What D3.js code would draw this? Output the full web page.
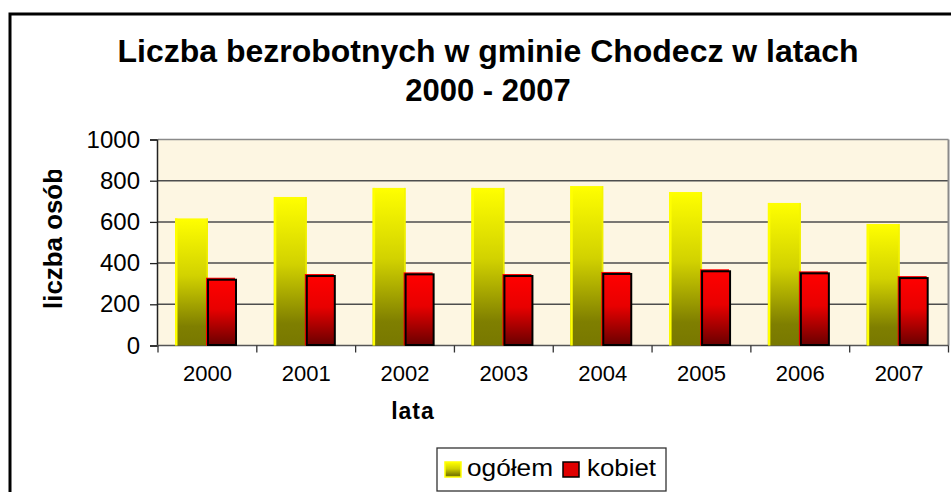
<!DOCTYPE html>
<html>
<head>
<meta charset="utf-8">
<script src="https://cdn.jsdelivr.net/npm/d3@7"></script>
<style>
  body { margin: 0; background: #fff; }
  #chart { width: 951px; height: 492px; }
  text { font-family: "Liberation Sans", Arial, sans-serif; }
</style>
</head>
<body>
<div id="chart"></div>
<script>

// data
let years = ["2000", "2001", "2002", "2003", "2004", "2005", "2006", "2007"];
let seriesNames = ["ogółem", "kobiet"];
let ogolem = [617, 721, 765, 765, 774, 745, 692, 590];
let kobiet = [329, 347, 355, 347, 357, 370, 360, 337];
let yTicks = [0, 200, 400, 600, 800, 1000];

class BarVis {

	constructor(parentElement) {
		this.parentElement = parentElement;
		this.displayData = years.map((y, i) => ({ key: y, "ogółem": ogolem[i], "kobiet": kobiet[i] }));
		this.initVis();
	}

	initVis() {
		let vis = this;

		vis.width = 951;
		vis.height = 492;
		vis.plot = { left: 158, right: 948.5, top: 139.5, bottom: 345.5 };

		vis.svg = d3.select(vis.parentElement).append("svg")
			.attr("width", vis.width)
			.attr("height", vis.height);

		vis.defs = vis.svg.append("defs");
		vis.makeGradients();

		// outer chart frame
		vis.svg.append("rect")
			.attr("x", 10).attr("y", 14)
			.attr("width", 960).attr("height", 500)
			.attr("fill", "#fff")
			.attr("stroke", "#000")
			.attr("stroke-width", 3);

		// title
		vis.svg.append("text")
			.attr("x", 488).attr("y", 62)
			.attr("text-anchor", "middle")
			.attr("font-size", 31).attr("font-weight", "bold")
			.attr("textLength", 741).attr("lengthAdjust", "spacingAndGlyphs")
			.text("Liczba bezrobotnych w gminie Chodecz w latach");
		vis.svg.append("text")
			.attr("x", 488).attr("y", 101)
			.attr("text-anchor", "middle")
			.attr("font-size", 31).attr("font-weight", "bold")
			.text("2000 - 2007");

		vis.createScaleAndAxis();
		vis.updateVis();
		vis.drawLegend();
	}

	makeGradients() {
		let vis = this;
		let yg = vis.defs.append("linearGradient").attr("id", "yellowGrad")
			.attr("x1", 0).attr("y1", 0).attr("x2", 0).attr("y2", 1);
		yg.append("stop").attr("offset", "0%").attr("stop-color", "#ffff00");
		yg.append("stop").attr("offset", "45%").attr("stop-color", "#d2d200");
		yg.append("stop").attr("offset", "85%").attr("stop-color", "#7f7f00");
		yg.append("stop").attr("offset", "100%").attr("stop-color", "#787800");

		let rg = vis.defs.append("linearGradient").attr("id", "redGrad")
			.attr("x1", 0).attr("y1", 0).attr("x2", 0).attr("y2", 1);
		rg.append("stop").attr("offset", "0%").attr("stop-color", "#ff0000");
		rg.append("stop").attr("offset", "45%").attr("stop-color", "#e80000");
		rg.append("stop").attr("offset", "100%").attr("stop-color", "#6a0000");

		vis.defs.append("clipPath").attr("id", "ytitleClip")
			.append("rect").attr("x", 0).attr("y", 170).attr("width", 150).attr("height", 250);
	}

	createScaleAndAxis() {
		let vis = this;
		let p = vis.plot;

		vis.x0 = d3.scaleBand()
			.domain(years)
			.range([p.left, p.right]);

		vis.x1 = d3.scaleBand()
			.domain(seriesNames)
			.range([0, 62]);

		vis.y = d3.scaleLinear()
			.domain([0, 1000])
			.range([p.bottom, p.top]);

		// plot background
		vis.svg.append("rect")
			.attr("x", p.left).attr("y", p.top)
			.attr("width", p.right - p.left).attr("height", p.bottom - p.top)
			.attr("fill", "#fdf6e2");

		// gridlines
		vis.svg.append("g").attr("class", "grid")
			.selectAll("line")
			.data(yTicks.filter(d => d > 0))
			.enter().append("line")
			.attr("x1", p.left).attr("x2", p.right)
			.attr("y1", d => vis.y(d)).attr("y2", d => vis.y(d))
			.attr("stroke", d => d === 1000 ? "#8a8a8a" : "#4d4d4d")
			.attr("stroke-width", 1.5);

		// right edge of plot
		vis.svg.append("line")
			.attr("x1", p.right).attr("x2", p.right)
			.attr("y1", p.top).attr("y2", p.bottom)
			.attr("stroke", "#8a8a8a").attr("stroke-width", 2);

		// y axis
		vis.yAxis = d3.axisLeft(vis.y)
			.tickValues(yTicks)
			.tickSize(7)
			.tickPadding(10)
			.tickFormat(d3.format("d"));

		let ya = vis.svg.append("g")
			.attr("class", "y-axis axis")
			.attr("transform", "translate(" + (p.left - 1) + ",0)")
			.call(vis.yAxis);
		ya.select(".domain").attr("stroke", "#222").attr("stroke-width", 1.5);
		ya.selectAll(".tick line").attr("stroke", "#222").attr("stroke-width", 1.3);
		ya.selectAll(".tick text")
			.attr("font-size", 24)
			.attr("fill", "#000")
			.attr("font-family", "Liberation Sans, Arial, sans-serif");

		// y title, clipped at the top like the original
		vis.svg.append("g").attr("clip-path", "url(#ytitleClip)")
			.append("text")
			.attr("transform", "translate(62,309) rotate(-90)")
			.attr("font-size", 25).attr("font-weight", "bold")
			.attr("textLength", 141).attr("lengthAdjust", "spacingAndGlyphs")
			.text("liczba osób");

		// x axis line and tick marks between categories
		vis.svg.append("line")
			.attr("x1", p.left - 1).attr("x2", p.right)
			.attr("y1", p.bottom).attr("y2", p.bottom)
			.attr("stroke", "#555").attr("stroke-width", 1.5);

		let boundaries = years.map(d => vis.x0(d)).concat([p.right]);
		vis.svg.append("g").selectAll("line")
			.data(boundaries)
			.enter().append("line")
			.attr("x1", d => d).attr("x2", d => d)
			.attr("y1", p.bottom).attr("y2", p.bottom + 7)
			.attr("stroke", "#333").attr("stroke-width", 1.3);

		vis.xAxis = d3.axisBottom(vis.x0).tickSize(0).tickPadding(20);
		let xa = vis.svg.append("g")
			.attr("class", "x-axis axis")
			.attr("transform", "translate(0," + p.bottom + ")")
			.call(vis.xAxis);
		xa.select(".domain").remove();
		xa.selectAll(".tick text")
			.attr("font-size", 22)
			.attr("fill", "#000")
			.attr("font-family", "Liberation Sans, Arial, sans-serif");

		// x title
		vis.svg.append("text")
			.attr("x", 413).attr("y", 419)
			.attr("text-anchor", "middle")
			.attr("font-size", 23).attr("font-weight", "bold")
			.attr("letter-spacing", 1)
			.text("lata");
	}

	updateVis() {
		let vis = this;
		let groupOffset = 17;

		let groups = vis.svg.selectAll(".year")
			.data(vis.displayData)
			.enter().append("g")
			.attr("class", "year")
			.attr("transform", d => "translate(" + (vis.x0(d.key) + groupOffset) + ",0)");

		// ogółem bars (yellow)
		let yw = vis.x1.bandwidth() + 2;
		groups.append("rect")
			.attr("x", vis.x1("ogółem"))
			.attr("y", d => vis.y(d["ogółem"]))
			.attr("width", yw)
			.attr("height", d => vis.y(0) - vis.y(d["ogółem"]))
			.attr("fill", "url(#yellowGrad)");
		groups.append("rect")
			.attr("x", vis.x1("ogółem"))
			.attr("y", d => vis.y(d["ogółem"]))
			.attr("width", 2.5)
			.attr("height", d => vis.y(0) - vis.y(d["ogółem"]))
			.attr("fill", "#ffff00");
		groups.append("rect")
			.attr("x", vis.x1("ogółem") + yw - 1.5)
			.attr("y", d => vis.y(d["ogółem"]))
			.attr("width", 1.5)
			.attr("height", d => vis.y(0) - vis.y(d["ogółem"]))
			.attr("fill", "#f4f400")
			.attr("opacity", 0.8);

		// kobiet bars (red with black outline, shifted)
		let rw = vis.x1.bandwidth() - 2;
		groups.append("rect")
			.attr("x", vis.x1("kobiet"))
			.attr("y", d => vis.y(d["kobiet"]))
			.attr("width", rw)
			.attr("height", d => vis.y(0) - vis.y(d["kobiet"]))
			.attr("fill", "#ff0000");
		groups.append("rect")
			.attr("x", vis.x1("kobiet") + 2)
			.attr("y", d => vis.y(d["kobiet"]) + 2)
			.attr("width", rw - 1)
			.attr("height", d => vis.y(0) - vis.y(d["kobiet"]) - 2.5)
			.attr("fill", "url(#redGrad)")
			.attr("stroke", "#000")
			.attr("stroke-width", 2);
	}

	drawLegend() {
		let vis = this;
		let lg = vis.svg.append("g").attr("class", "legend");

		lg.append("rect")
			.attr("x", 437).attr("y", 448)
			.attr("width", 229).attr("height", 43)
			.attr("fill", "#fff")
			.attr("stroke", "#333")
			.attr("stroke-width", 1.3);

		// yellow marker
		lg.append("rect")
			.attr("x", 445).attr("y", 462)
			.attr("width", 16).attr("height", 15)
			.attr("fill", "url(#yellowGrad)")
			.attr("stroke", "#ffff00").attr("stroke-width", 1.5);
		lg.append("text")
			.attr("x", 467).attr("y", 476)
			.attr("font-size", 24)
			.attr("textLength", 86).attr("lengthAdjust", "spacingAndGlyphs")
			.text(seriesNames[0]);

		// red marker
		lg.append("rect")
			.attr("x", 563).attr("y", 462)
			.attr("width", 16).attr("height", 15)
			.attr("fill", "#e00000")
			.attr("stroke", "#000").attr("stroke-width", 1.5);
		lg.append("text")
			.attr("x", 587).attr("y", 476)
			.attr("font-size", 24)
			.attr("textLength", 69).attr("lengthAdjust", "spacingAndGlyphs")
			.text(seriesNames[1]);
	}
}

new BarVis(document.getElementById("chart"));
</script>
</body>
</html>
